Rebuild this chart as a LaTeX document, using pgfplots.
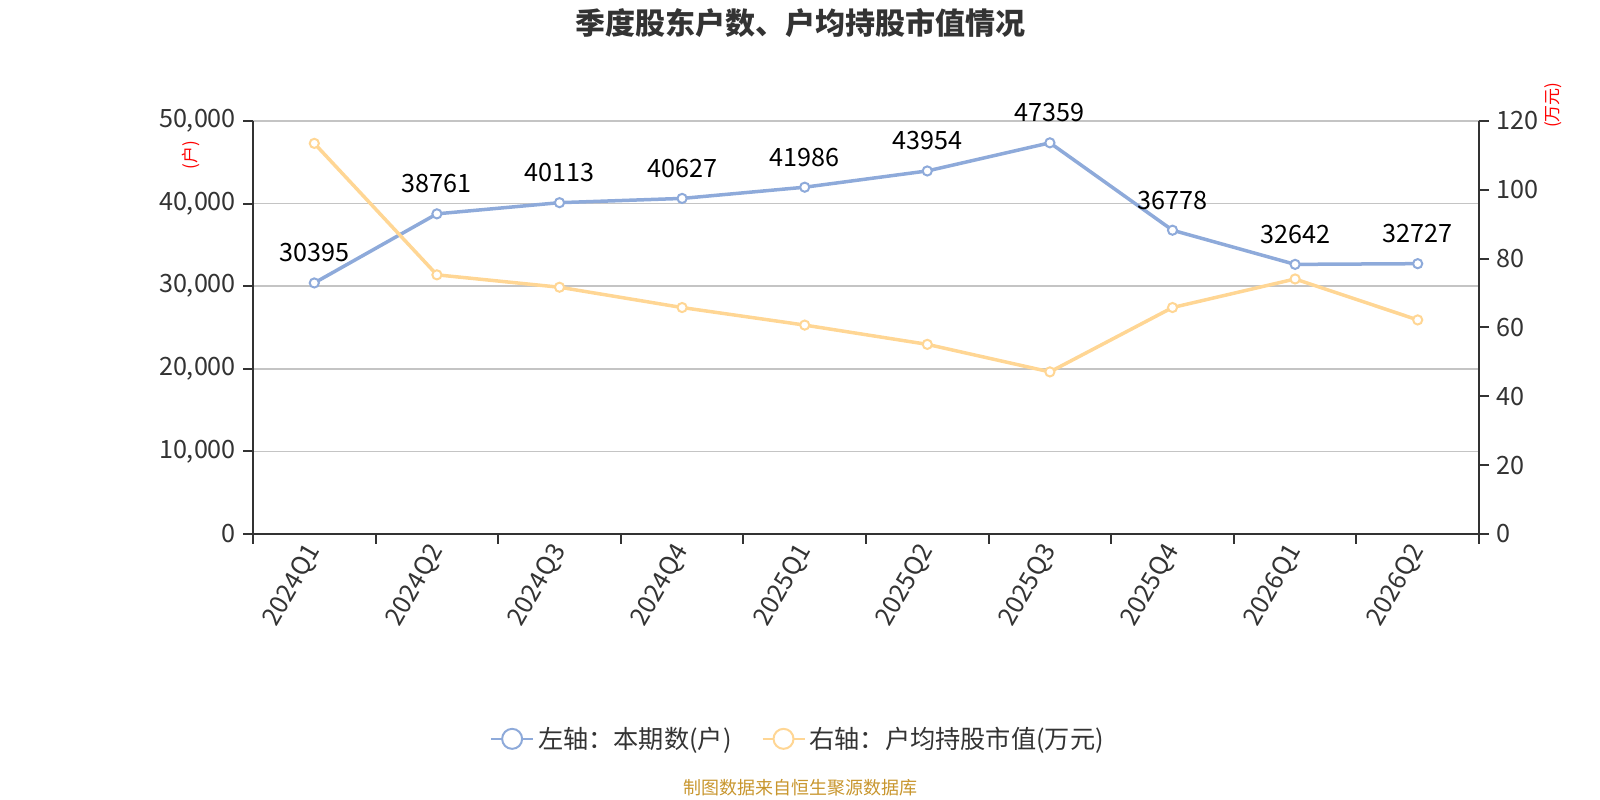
\documentclass[border=0pt]{standalone}
\usepackage{fontspec}
\setmainfont{Noto Sans CJK SC}
\usepackage{pgfplots}
\pgfplotsset{compat=1.18}
\definecolor{cblue}{RGB}{142,170,218}
\definecolor{cyellow}{RGB}{255,214,148}
\definecolor{ctext}{RGB}{51,51,51}
\definecolor{cgrid}{RGB}{196,196,196}
\definecolor{cfoot}{RGB}{200,150,46}
\begin{document}
\begin{tikzpicture}
\path[use as bounding box] (0,0) rectangle (800bp,400bp);
\node[font=\bfseries\fontsize{15bp}{18bp}\selectfont, text=ctext] at (400bp,388.5bp) {季度股东户数、户均持股市值情况};
\node[font=\fontsize{9bp}{11bp}\selectfont, text=cfoot] at (400bp,6bp) {制图数据来自恒生聚源数据库};
\begin{axis}[
  scale only axis, width=613bp, height=206.5bp,
  at={(126.5bp,133bp)}, anchor=south west,
  xmin=-0.5, xmax=9.5, ymin=0, ymax=50000,
  axis x line*=bottom, axis y line*=left,
  axis line style={-, draw=ctext, line width=1bp},
  tick align=outside, major tick length=5bp,
  tick style={draw=ctext, line width=1bp},
  xtick={-0.5,0.5,...,9.5}, xticklabels={},
  extra x ticks={0,1,2,3,4,5,6,7,8,9},
  extra x tick labels={2024Q1,2024Q2,2024Q3,2024Q4,2025Q1,2025Q2,2025Q3,2025Q4,2026Q1,2026Q2},
  extra x tick style={major tick length=0pt, grid=none,
     tick label style={rotate=60, anchor=east, yshift=-3.5bp, xshift=-2bp, font=\fontsize{12.6bp}{14bp}\selectfont, text=ctext}},
  ytick={0,10000,...,50000},
  scaled y ticks=false,
  y tick label style={font=\fontsize{12.6bp}{14bp}\selectfont, text=ctext,
     /pgf/number format/.cd, fixed, 1000 sep={,}, assume math mode=true},
  ymajorgrids, grid style={draw=cgrid, line width=0.75bp},
  every axis y label/.style={at={(axis description cs:-0.0506,0.9177)}, rotate=90, anchor=center,
     font=\fontsize{8.5bp}{10bp}\selectfont, text=red},
  ylabel={(户)},
  clip=false,
  nodes near coords, point meta=explicit symbolic,
  every node near coord/.append style={anchor=center, yshift=15bp, font=\fontsize{12.6bp}{14bp}\selectfont, text=black},
]
\addplot[cblue, line width=1.75bp, mark=*, mark size=2.3bp,
  mark options={fill=white, draw=cblue, line width=1bp}]
coordinates {(0,30395)[30395] (1,38761)[38761] (2,40113)[40113] (3,40627)[40627] (4,41986)[41986]
 (5,43954)[43954] (6,47359)[47359] (7,36778)[36778] (8,32642)[32642] (9,32727)[32727]};
\end{axis}
\begin{axis}[
  scale only axis, width=613bp, height=206.5bp,
  at={(126.5bp,133bp)}, anchor=south west,
  xmin=-0.5, xmax=9.5, ymin=0, ymax=120,
  axis x line=none, axis y line*=right,
  axis line style={-, draw=ctext, line width=1bp},
  tick align=outside, major tick length=5bp,
  tick style={draw=ctext, line width=1bp},
  ytick={0,20,...,120},
  y tick label style={font=\fontsize{12.6bp}{14bp}\selectfont, text=ctext,
     /pgf/number format/.cd, fixed, assume math mode=true},
  every axis y label/.style={at={(axis description cs:1.0604,1.0387)}, rotate=90, anchor=center,
     font=\fontsize{8.5bp}{10bp}\selectfont, text=red},
  ylabel={(万元)},
  clip=false,
  legend columns=2,
  legend style={draw=none, fill=none, at={(axis description cs:0.4453,-0.496)}, anchor=center,
     font=\fontsize{12.6bp}{14bp}\selectfont, text=ctext,
     /tikz/every even column/.append style={column sep=13bp}},
  legend cell align=left,
]
\addlegendimage{cblue, line width=1bp, legend image code/.code={
   \draw[line width=1bp] (0bp,0bp) -- (21bp,0bp);
   \draw[line width=1bp, fill=white] (10.5bp,0bp) circle (5bp);}}
\addlegendentry{左轴：本期数(户)}
\addplot[cyellow, line width=1.75bp, mark=*, mark size=2.3bp,
  mark options={fill=white, draw=cyellow, line width=1bp},
  legend image code/.code={
   \draw[line width=1bp] (0bp,0bp) -- (21bp,0bp);
   \draw[line width=1bp, fill=white] (10.5bp,0bp) circle (5bp);}]
coordinates {(0,113.5) (1,75.3) (2,71.7) (3,65.8) (4,60.7) (5,55.1) (6,47.1) (7,65.8) (8,74.1) (9,62.2)};
\addlegendentry{右轴：户均持股市值(万元)}
\end{axis}
\end{tikzpicture}
\end{document}
